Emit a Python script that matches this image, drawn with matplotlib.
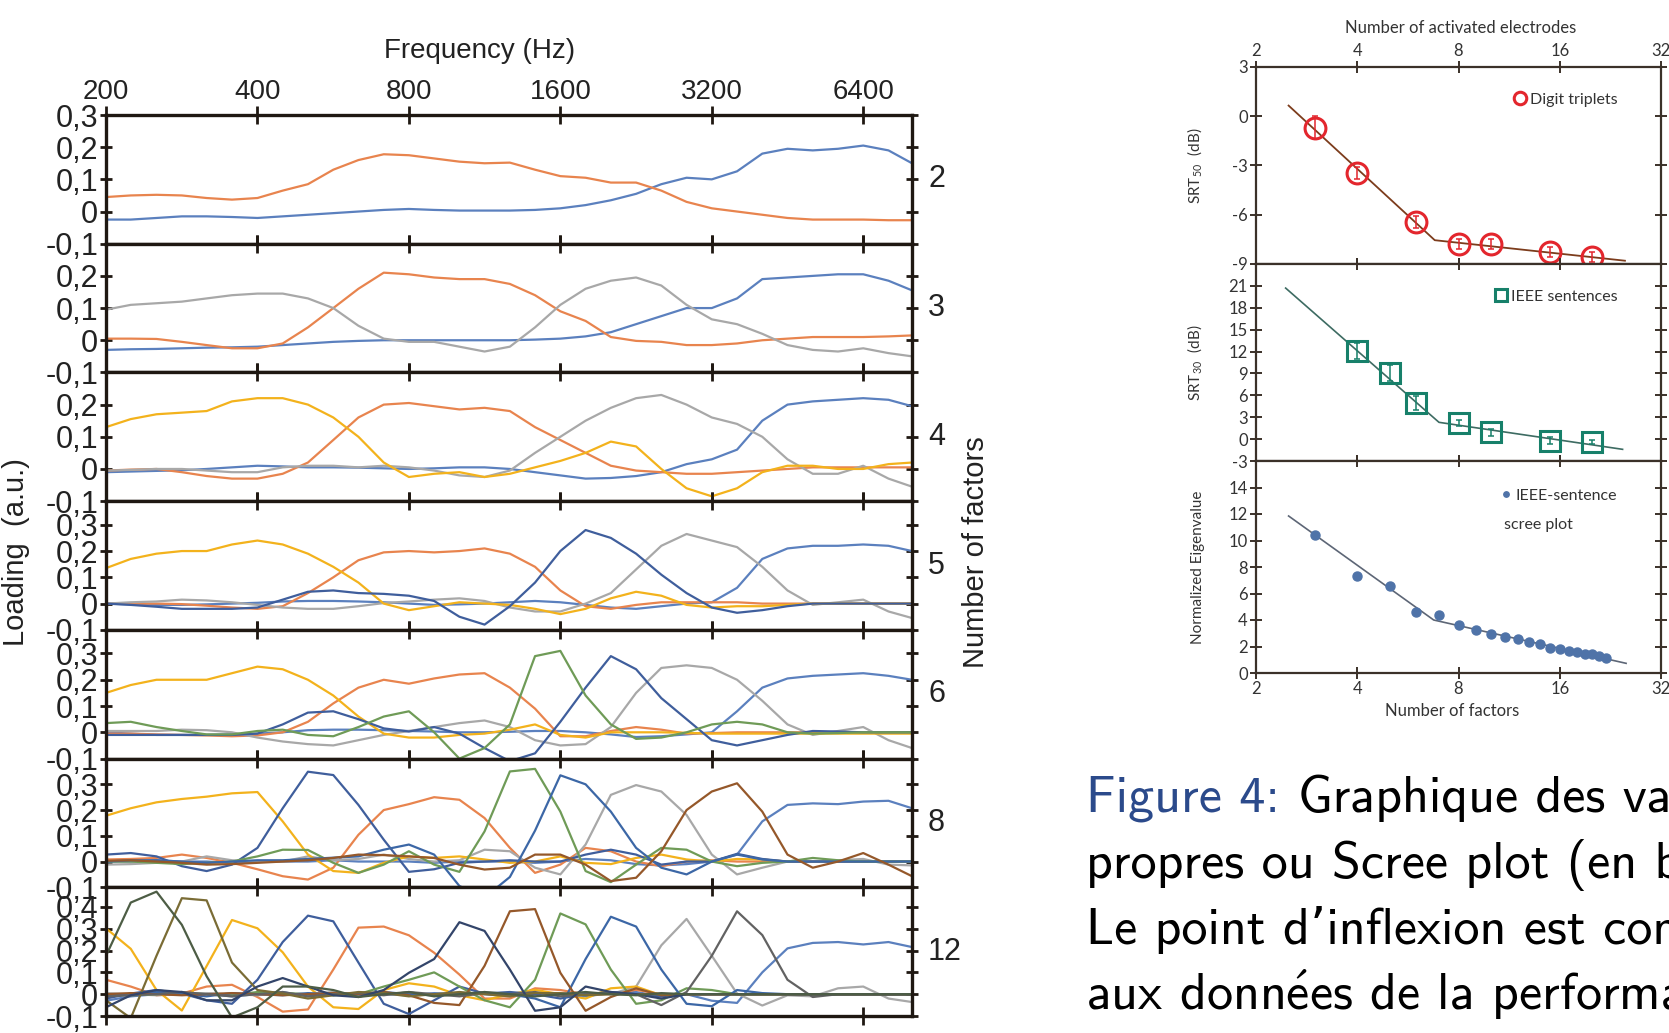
import matplotlib
matplotlib.use("Agg")
from matplotlib import pyplot as plt
from matplotlib.ticker import NullLocator

plt.rcParams['font.family'] = ['Liberation Sans', 'DejaVu Sans']
plt.rcParams['axes.unicode_minus'] = False
plt.rcParams['mathtext.fontset'] = 'cm'

# ---------------- data: factor loadings (left figure) ----------------
# frequency grid, 1/6 octave steps (Hz)
freq = [200, 224, 252, 283, 317, 356, 400, 449, 504, 566, 635, 713, 800, 898,
        1008, 1131, 1270, 1425, 1600, 1796, 2016, 2263, 2540, 2851, 3200, 3592,
        4032, 4525, 5080, 5702, 6400, 7184, 8000]
freq_ticks = [200, 400, 800, 1600, 3200, 6400]

p2_blue = [-.025,-.025,-.02,-.015,-.015,-.017,-.02,-.015,-.01,-.005,0,.005,.008,.005,.003,.003,.003,.005,.01,.02,.035,.055,.085,.105,.1,.125,.18,.195,.19,.195,.205,.19,.15]
p2_orange = [.045,.05,.052,.05,.042,.037,.042,.065,.085,.13,.16,.178,.175,.165,.155,.15,.152,.13,.11,.105,.09,.09,.065,.03,.01,0,-.01,-.02,-.025,-.025,-.025,-.027,-.027]

p3_blue = [-.03,-.028,-.027,-.025,-.023,-.022,-.02,-.015,-.01,-.005,-.002,0,0,0,0,0,0,.002,.005,.012,.025,.05,.075,.1,.1,.13,.19,.195,.2,.205,.205,.185,.155]
p3_orange = [.005,.005,.004,-.005,-.015,-.025,-.025,-.01,.04,.1,.16,.21,.205,.195,.19,.19,.175,.14,.09,.06,.01,-.002,-.005,-.015,-.015,-.01,0,.005,.01,.01,.01,.012,.015]
p3_gray = [.095,.11,.115,.12,.13,.14,.145,.145,.13,.1,.045,.005,-.005,-.005,-.02,-.035,-.02,.04,.11,.16,.185,.195,.17,.11,.065,.05,.02,-.015,-.03,-.035,-.025,-.04,-.05]

p4_blue = [-.01,-.008,-.006,-.004,0,.005,.01,.008,.005,.005,.004,.002,0,.002,.005,.005,0,-.01,-.02,-.03,-.028,-.022,-.01,.015,.03,.06,.15,.2,.21,.215,.22,.215,.195]
p4_orange = [-.005,-.002,0,-.01,-.022,-.03,-.03,-.015,.02,.09,.16,.2,.205,.195,.185,.19,.18,.13,.09,.05,.01,-.005,-.01,-.015,-.015,-.01,-.005,0,.005,.005,.005,.005,.005]
p4_gray = [-.005,-.003,0,0,-.005,-.01,-.01,.005,.01,.01,.005,.01,.005,-.005,-.02,-.025,-.005,.05,.1,.15,.19,.22,.23,.2,.16,.14,.1,.03,-.015,-.015,.01,-.03,-.055]
p4_yellow = [.13,.155,.17,.175,.18,.21,.22,.22,.2,.16,.1,.02,-.025,-.015,-.01,-.025,-.015,.005,.025,.05,.085,.07,0,-.06,-.085,-.06,-.01,.01,.01,0,0,.015,.02]

p5_blue = [0,-.003,-.005,-.005,-.003,0,.003,.008,.01,.01,.008,.005,0,-.005,-.003,0,.005,.01,.005,-.005,-.015,-.02,-.01,0,.005,.06,.17,.21,.22,.22,.225,.22,.2]
p5_orange = [0,0,0,-.002,-.008,-.015,-.02,-.01,.04,.1,.165,.195,.2,.195,.2,.21,.19,.14,.05,-.01,-.02,-.005,.005,.005,.005,.005,0,0,0,0,0,0,0]
p5_gray = [0,.005,.008,.015,.012,.005,-.005,-.015,-.02,-.02,-.01,.002,.008,.015,.02,.01,-.015,-.03,-.03,0,.04,.13,.22,.265,.24,.215,.14,.05,-.005,.005,.015,-.03,-.055]
p5_yellow = [.135,.17,.19,.2,.2,.225,.24,.225,.19,.14,.08,0,-.025,-.01,.005,0,-.005,-.02,-.04,-.02,.02,.045,.03,-.005,-.015,-.01,-.01,-.005,0,0,0,0,0]
p5_navy = [0,-.005,-.012,-.02,-.02,-.02,-.015,.015,.045,.05,.04,.037,.03,.01,-.05,-.08,-.01,.08,.2,.28,.25,.19,.11,.04,-.015,-.035,-.025,-.01,0,0,0,0,0]

p6_blue = [0,-.005,-.01,-.01,-.01,-.008,-.005,0,.008,.01,.01,.008,.005,.003,0,0,.002,.005,.005,0,-.008,-.018,-.015,-.008,0,.08,.17,.205,.215,.22,.225,.215,.2]
p6_orange = [-.005,-.005,-.008,-.01,-.012,-.015,-.012,0,.04,.11,.17,.2,.185,.205,.22,.225,.17,.09,-.015,-.015,.005,.02,.01,-.005,-.003,0,0,0,0,0,0,0,0]
p6_gray = [.005,.005,.005,.01,.008,0,-.02,-.035,-.045,-.05,-.03,-.01,.005,.02,.035,.045,.02,-.03,-.05,-.045,.02,.15,.245,.255,.245,.2,.12,.03,-.01,.005,.02,-.03,-.06]
p6_yellow = [.15,.18,.2,.2,.2,.225,.25,.24,.2,.14,.06,-.005,-.02,-.02,-.01,-.005,.01,.03,-.01,-.02,0,0,0,-.002,-.005,-.005,-.005,-.005,-.005,-.005,-.005,-.005,-.005]
p6_navy = [-.01,-.01,-.01,-.01,-.01,-.01,-.005,.03,.075,.08,.05,.015,.003,.02,-.005,-.06,-.11,-.08,.04,.17,.29,.24,.13,.05,-.03,-.05,-.03,-.01,.005,.003,0,0,0]
p6_green = [.035,.04,.02,.005,-.008,-.008,.005,.01,-.01,-.015,.02,.06,.08,0,-.1,-.06,.03,.29,.31,.14,.03,-.025,-.02,0,.03,.04,.03,0,-.005,-.003,0,0,0]

p8_blue = [0,0,.005,0,0,-.005,0,0,0,.005,0,0,0,-.005,0,0,0,-.005,0,.01,.005,-.01,-.015,-.01,0,.027,.156,.22,.226,.223,.233,.236,.207]
p8_orange = [.008,.01,.014,.027,.014,-.005,-.03,-.057,-.07,-.024,.104,.2,.223,.25,.24,.169,.053,-.044,-.012,.053,.04,0,-.018,0,.005,0,0,0,0,0,0,0,0]
p8_gray = [-.012,-.01,-.005,0,.02,.005,0,0,.02,.005,.01,.027,.01,0,.005,.046,.04,-.024,-.05,.066,.259,.297,.272,.181,.027,-.05,-.024,0,0,.005,.01,-.012,-.015]
p8_yellow = [.178,.207,.23,.243,.252,.265,.27,.156,.027,-.037,-.044,-.005,.02,.014,.02,.008,-.005,0,.02,-.005,-.01,.014,.027,.008,0,.01,.008,0,0,0,0,0,0]
p8_navy = [.027,.033,.02,-.018,-.037,-.012,.053,.207,.349,.336,.22,.085,-.04,-.03,-.005,0,.005,0,0,.027,.046,.027,-.012,0,0,.03,.01,0,0,0,0,0,0]
p8_green = [0,0,-.005,-.01,-.005,0,.02,.046,.045,-.005,-.044,-.012,.04,-.012,-.04,.117,.35,.36,.194,-.037,-.08,-.012,.053,.046,0,-.018,-.005,0,.014,.005,0,0,0]
p8_mblue = [0,.005,.005,0,-.005,0,.005,.005,.01,.015,.02,.046,.066,.027,-.095,-.14,-.06,.12,.335,.3,.194,.053,-.024,-.05,0,.027,.008,0,0,0,0,0,0]
p8_brown = [.003,.005,0,-.005,-.012,-.01,-.005,0,.005,.014,.027,.025,.02,.014,-.012,-.031,-.024,.027,.027,-.012,-.076,-.063,.04,.2,.272,.304,.194,.027,-.024,0,.033,-.012,-.057]

p12_blue = [-.03,-.01,0,.01,0,-.01,0,.01,-.01,0,.005,0,-.005,.005,0,0,-.01,.005,0,-.01,.005,.01,-.01,0,-.03,-.04,.1,.21,.235,.239,.228,.239,.216]
p12_orange = [.066,.035,-.005,.003,.035,.043,-.013,-.08,-.07,.113,.305,.31,.27,.19,.09,-.02,-.02,.027,.019,0,0,.02,0,0,0,0,0,0,0,0,0,0,0]
p12_gray = [.005,0,-.005,0,.005,0,-.005,.005,0,.01,-.005,0,.005,-.005,0,.01,0,-.005,.005,0,0,.035,.224,.345,.176,.003,-.052,-.005,-.01,.027,.035,-.02,-.036]
p12_yellow = [.302,.208,.019,-.075,.129,.34,.302,.192,.035,-.06,-.068,.019,.05,.035,-.005,-.028,0,.02,0,-.02,.027,.035,-.005,0,0,0,0,0,0,0,0,0,0]
p12_navy = [-.02,.003,.019,.003,-.028,-.044,.066,.239,.36,.334,.145,-.044,-.091,-.028,.035,.003,.01,0,-.02,0,.01,0,-.01,0,0,0,0,0,0,0,0,0,0]
p12_green = [0,-.005,0,.005,0,-.005,.01,.005,0,-.005,0,.035,.066,.1,.035,-.028,-.06,.066,.37,.32,.113,-.044,-.028,.027,.019,0,0,0,0,0,0,0,0]
p12_mblue = [-.01,0,.01,0,-.01,.005,0,-.005,.005,0,0,.01,0,-.005,0,.005,0,-.02,-.06,.161,.355,.31,.113,-.044,-.055,.019,.005,0,0,0,0,0,0]
p12_brown = [0,.005,0,-.005,0,.005,0,-.005,0,.005,0,.01,-.005,-.04,-.05,.13,.38,.39,.098,-.076,-.013,.027,-.005,0,0,0,0,0,0,0,0,0,0]
p12_dgray = [-.01,-.005,0,.01,0,-.01,0,.01,-.01,0,.005,-.005,.01,0,-.01,.005,0,.01,-.01,0,.005,0,-.05,.01,.176,.38,.271,.066,-.013,0,0,0,0]
p12_khaki = [-.028,-.11,.176,.44,.43,.145,.019,.003,-.02,-.005,.01,.005,-.01,0,.01,0,-.01,.005,.005,-.005,0,0,0,0,0,0,0,0,0,0,0,0,0]
p12_dnavy = [-.06,-.005,.019,.01,-.028,-.028,.035,.074,.035,-.005,-.013,.019,.098,.161,.33,.29,.113,-.076,-.06,.035,.01,0,-.02,0,0,0,0,0,0,0,0,0,0]
p12_dgreen = [.176,.42,.47,.318,.082,-.107,-.06,.035,.035,.019,-.013,0,.01,-.01,0,.01,0,-.01,0,.01,0,-.005,.005,0,0,0,0,0,0,0,0,0,0]

# ---------------- data: right figure ----------------
elec_ticks = [2, 4, 8, 16, 32]
trip_n = [3, 4, 6, 8, 10, 15, 20]
trip_srt = [-0.7, -3.45, -6.45, -7.8, -7.8, -8.25, -8.55]
trip_err = [0.7, 0.35, 0.35, 0.3, 0.3, 0.3, 0.3]
trip_fit_n = [2.5, 6.8, 25]
trip_fit_srt = [0.65, -7.55, -8.8]

ieee_n = [4, 5, 6, 8, 10, 15, 20]
ieee_srt = [12.1, 9.05, 4.95, 2.25, 0.95, -0.2, -0.4]
ieee_err = [1.1, 1.1, 1.0, 0.4, 0.5, 0.5, 0.3]
ieee_fit_n = [2.45, 7.0, 24.6]
ieee_fit_srt = [20.7, 2.3, -1.4]

scree_n = [3, 4, 5, 6, 7, 8, 9, 10, 11, 12, 13, 14, 15, 16, 17, 18, 19, 20, 21, 22]
scree_eig = [10.4, 7.32, 6.57, 4.62, 4.37, 3.61, 3.28, 2.93, 2.7, 2.6, 2.37, 2.17,
             1.92, 1.79, 1.69, 1.59, 1.46, 1.41, 1.26, 1.16]
scree_fit_n = [2.5, 6.75, 25.2]
scree_fit_eig = [11.85, 4.0, 0.73]

caption = ["Figure 4:", "Graphique des va", "propres ou Scree plot (en b",
           "Le point d\u2019inflexion est com", "aux donn$\\mathsf{\\acute{e}}$es de la performa"]

# ---------------- colours ----------------
c_blue = '#5b80be'
c_orange = '#e8844e'
c_gray = '#a8a8a8'
c_yellow = '#f3b21c'
c_navy = '#3f5e9c'
c_green = '#6f9b57'
c_mblue = '#3c67a6'
c_brown = '#95582a'
c_dgray = '#626262'
c_khaki = '#7a6c35'
c_dnavy = '#33456a'
c_dgreen = '#4d5d45'
spine_l = '#1f1812'
spine_r = '#3b3129'

W, H = 1669, 1033
fig = plt.figure(figsize=(W / 100, H / 100), dpi=100)


def box(x0, y0, x1, y1):
    return [x0 / W, 1 - y1 / H, (x1 - x0) / W, (y1 - y0) / H]


def comma(v):
    if abs(v) < 1e-9:
        return '0'
    return ('%.1f' % v).replace('.', ',')


panels = [
    ('2', 0.3, [-0.1, 0, 0.1, 0.2, 0.3], [(p2_blue, c_blue), (p2_orange, c_orange)]),
    ('3', 0.3, [-0.1, 0, 0.1, 0.2], [(p3_blue, c_blue), (p3_orange, c_orange), (p3_gray, c_gray)]),
    ('4', 0.3, [-0.1, 0, 0.1, 0.2], [(p4_blue, c_blue), (p4_orange, c_orange), (p4_gray, c_gray),
                                      (p4_yellow, c_yellow)]),
    ('5', 0.39, [-0.1, 0, 0.1, 0.2, 0.3], [(p5_blue, c_blue), (p5_orange, c_orange), (p5_gray, c_gray),
                                            (p5_yellow, c_yellow), (p5_navy, c_navy)]),
    ('6', 0.39, [-0.1, 0, 0.1, 0.2, 0.3], [(p6_blue, c_blue), (p6_orange, c_orange), (p6_gray, c_gray),
                                            (p6_yellow, c_yellow), (p6_navy, c_navy), (p6_green, c_green)]),
    ('8', 0.4, [-0.1, 0, 0.1, 0.2, 0.3], [(p8_blue, c_blue), (p8_orange, c_orange), (p8_gray, c_gray),
                                           (p8_yellow, c_yellow), (p8_navy, c_navy), (p8_green, c_green),
                                           (p8_mblue, c_mblue), (p8_brown, c_brown)]),
    ('12', 0.49, [-0.1, 0, 0.1, 0.2, 0.3, 0.4], [(p12_blue, c_blue), (p12_orange, c_orange), (p12_gray, c_gray),
                                                  (p12_yellow, c_yellow), (p12_navy, c_navy), (p12_green, c_green),
                                                  (p12_mblue, c_mblue), (p12_brown, c_brown), (p12_dgray, c_dgray),
                                                  (p12_khaki, c_khaki), (p12_dnavy, c_dnavy), (p12_dgreen, c_dgreen)]),
]

top, bottom = 115, 1016
ph = (bottom - top) / len(panels)
for i, (nf, ymax, yt, series) in enumerate(panels):
    ax = fig.add_axes(box(106, top + i * ph, 912, top + (i + 1) * ph))
    for vals, col in series:
        ax.plot(freq, vals, color=col, lw=1.6, solid_joinstyle='round')
    ax.set_xscale('log', base=2)
    ax.set_xlim(200, 8000)
    ax.set_ylim(-0.1, ymax)
    ax.set_xticks(freq_ticks)
    ax.set_xticklabels([str(f) for f in freq_ticks])
    ax.xaxis.set_minor_locator(NullLocator())
    ax.set_yticks(yt)
    ax.set_yticklabels([comma(v) for v in yt])
    ax.tick_params(axis='x', direction='inout', length=13, width=2, color=spine_l,
                   top=True, bottom=True, labelbottom=False, labeltop=(i == 0),
                   labelsize=20, pad=1, labelcolor='#222222')
    ax.tick_params(axis='y', direction='inout', length=9, width=2, color=spine_l,
                   left=True, right=True, labelsize=22, pad=1, labelcolor='#222222')
    for s in ax.spines.values():
        s.set_linewidth(2.4)
        s.set_color(spine_l)
    ax.text(1.02, 0.5, nf, transform=ax.transAxes, ha='left', va='center',
            fontsize=22, color='#222222')

fig.text(480 / W, 1 - 51 / H, 'Frequency (Hz)', ha='center', va='center', fontsize=20, color='#222222')
fig.text(16 / W, 1 - 552 / H, 'Loading  (a.u.)', rotation=90, ha='center', va='center',
         fontsize=21, color='#222222')
fig.text(976 / W, 1 - 552 / H, 'Number of factors', rotation=90, ha='center', va='center',
         fontsize=21, color='#222222')

# ---------------- right figure ----------------
c_red = '#e3262d'
c_teal = '#17806a'
c_dot = '#4f73a8'
rfont = 'Lato'

ra = fig.add_axes(box(1256, 67, 1661, 264))
rb = fig.add_axes(box(1256, 264, 1661, 461))
rc = fig.add_axes(box(1256, 461, 1661, 673))

ra.plot(trip_fit_n, trip_fit_srt, color='#7c3c1c', lw=1.3)
ra.errorbar(trip_n, trip_srt, yerr=trip_err, fmt='none', ecolor=c_red, elinewidth=1.1,
            capsize=2.5, capthick=1.1)
ra.plot(trip_n, trip_srt, 'o', ms=15, mfc='none', mec=c_red, mew=2.2, label='Digit triplets')
ra.set_ylim(-9, 3)
ra.set_yticks([-9, -6, -3, 0, 3])

rb.plot(ieee_fit_n, ieee_fit_srt, color='#3d6b62', lw=1.2)
rb.errorbar(ieee_n, ieee_srt, yerr=ieee_err, fmt='none', ecolor=c_teal, elinewidth=1.1,
            capsize=2.5, capthick=1.1)
rb.plot(ieee_n, ieee_srt, 's', ms=15, mfc='none', mec=c_teal, mew=2.2, label='IEEE sentences')
rb.set_ylim(-3, 24)
rb.set_yticks([-3, 0, 3, 6, 9, 12, 15, 18, 21])

rc.plot(scree_fit_n, scree_fit_eig, color='#5d6676', lw=1.2)
rc.plot(scree_n, scree_eig, 'o', ms=6.5, color=c_dot, label='IEEE-sentence')
rc.set_ylim(0, 16)
rc.set_yticks([0, 2, 4, 6, 8, 10, 12, 14])
rc.text(0.612, 0.70, 'scree plot', transform=rc.transAxes, ha='left', va='center',
        fontsize=11.5, family=rfont, color='#333333')

for ax in (ra, rb, rc):
    ax.set_xscale('log', base=2)
    ax.set_xlim(2, 32)
    ax.set_xticks(elec_ticks)
    ax.set_xticklabels([str(t) for t in elec_ticks])
    ax.xaxis.set_minor_locator(NullLocator())
    ax.tick_params(axis='both', direction='inout', length=8, width=1.4, color=spine_r,
                   top=True, right=True, labelbottom=False, labelsize=12,
                   labelfontfamily=rfont, labelcolor='#333333', pad=2)
    for s in ax.spines.values():
        s.set_linewidth(1.6)
        s.set_color(spine_r)
    leg = ax.legend(loc='upper right', bbox_to_anchor=(0.9, 0.885), frameon=False,
                    markerscale=0.6, handlelength=0.7, handletextpad=0.25,
                    borderaxespad=0, borderpad=0.2, prop={'family': rfont, 'size': 11.5})
    for t in leg.get_texts():
        t.set_color('#333333')
ra.tick_params(axis='x', labeltop=True)
rc.tick_params(axis='x', labelbottom=True)

ylab = {'family': rfont, 'size': 11, 'color': '#333333'}
ra.set_ylabel('SRT$_\\mathregular{50}$  (dB)', fontdict=ylab)
rb.set_ylabel('SRT$_\\mathregular{30}$  (dB)', fontdict=ylab)
rc.set_ylabel('Normalized Eigenvalue', fontdict=ylab)
for ax in (ra, rb, rc):
    ax.yaxis.set_label_coords(-0.125, 0.5)

fig.text(1461 / W, 1 - 28 / H, 'Number of activated electrodes', ha='center', va='center',
         fontsize=12, family=rfont, color='#333333')
fig.text(1452 / W, 1 - 711 / H, 'Number of factors', ha='center', va='center',
         fontsize=12, family=rfont, color='#333333')

# ---------------- caption ----------------
cap_font = ['cmss10', 'DejaVu Sans']
cap_x, cap_y0, cap_dy = 1086, 812, 66
t1 = fig.text(cap_x / W, 1 - cap_y0 / H, caption[0], ha='left', va='baseline', fontsize=37.5,
              family=cap_font, color='#2b4a8b')
fig.canvas.draw()
x_end = t1.get_window_extent().x1
fig.text((x_end + 18) / W, 1 - cap_y0 / H, caption[1], ha='left', va='baseline', fontsize=37.5,
         family=cap_font, color='black')
for j, line in enumerate(caption[2:]):
    fig.text(cap_x / W, 1 - (cap_y0 + cap_dy * (j + 1)) / H, line, ha='left', va='baseline',
             fontsize=37.5, family=cap_font, color='black')

fig.savefig('out.png', dpi=100)
